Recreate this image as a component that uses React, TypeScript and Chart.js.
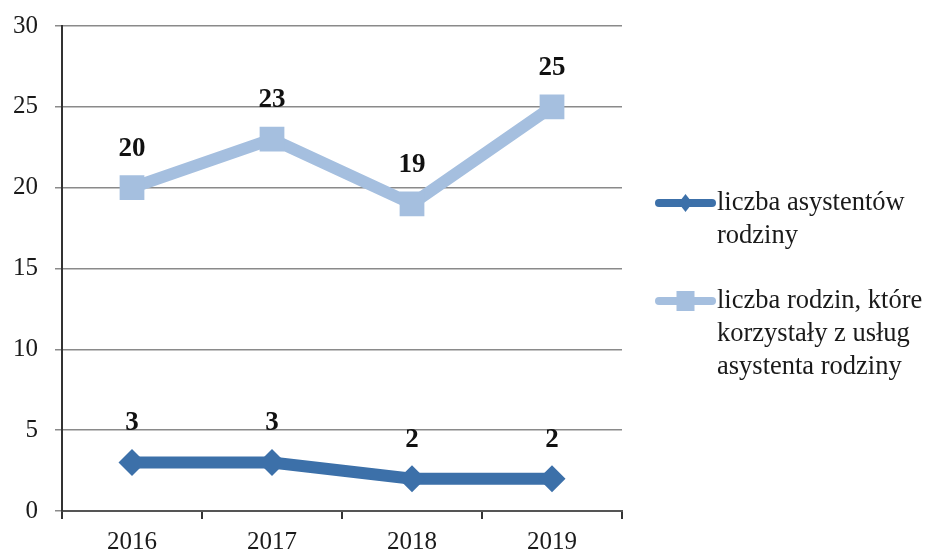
import React, { useEffect, useRef } from "react";
import { Chart, registerables } from "chart.js";

Chart.register(...registerables);

const categories = ["2016", "2017", "2018", "2019"];
const asystenci = [3, 3, 2, 2];
const rodziny = [20, 23, 19, 25];
const legendLabels = [
  ["liczba asystentów", "rodziny"],
  ["liczba rodzin, które", "korzystały z usług", "asystenta rodziny"],
];
const yTicks = [0, 5, 10, 15, 20, 25, 30];

const DARK = "#3c70a9";
const LIGHT = "#a5bfdf";
const FONT = "'Liberation Serif', 'Times New Roman', serif";

const dataLabelPlugin = {
  id: "dataLabels",
  afterDatasetsDraw(chart: any) {
    const ctx = chart.ctx;
    ctx.save();
    ctx.font = `bold 27px ${FONT}`;
    ctx.fillStyle = "#111";
    ctx.textAlign = "center";
    ctx.textBaseline = "middle";
    chart.data.datasets.forEach((ds: any, i: number) => {
      const meta = chart.getDatasetMeta(i);
      meta.data.forEach((pt: any, j: number) => {
        ctx.fillText(String(ds.data[j]), pt.x, pt.y - 39);
      });
    });
    ctx.restore();
  },
};

const legendPlugin = {
  id: "customLegend",
  afterDraw(chart: any) {
    const ctx = chart.ctx;
    ctx.save();
    const x0 = 659;
    const x1 = 712;
    const starts = [203, 301];
    const lh = 33;
    chart.data.datasets.forEach((ds: any, i: number) => {
      const y = starts[i];
      ctx.strokeStyle = ds.borderColor;
      ctx.lineWidth = 8;
      ctx.lineCap = "round";
      ctx.beginPath();
      ctx.moveTo(x0, y);
      ctx.lineTo(x1, y);
      ctx.stroke();
      ctx.fillStyle = ds.pointBackgroundColor;
      const cx = (x0 + x1) / 2;
      if (ds.pointStyle === "rectRot") {
        ctx.beginPath();
        ctx.moveTo(cx, y - 9);
        ctx.lineTo(cx + 7, y);
        ctx.lineTo(cx, y + 9);
        ctx.lineTo(cx - 7, y);
        ctx.closePath();
        ctx.fill();
      } else {
        ctx.fillRect(cx - 9, y - 10, 18, 20);
      }
      ctx.fillStyle = "#1a1a1a";
      ctx.font = `26.5px ${FONT}`;
      ctx.textAlign = "left";
      ctx.textBaseline = "middle";
      legendLabels[i].forEach((t, k) => {
        ctx.fillText(t, 717, y + k * lh);
      });
    });
    ctx.restore();
  },
};

export default function App() {
  const ref = useRef<HTMLCanvasElement>(null);
  useEffect(() => {
    if (!ref.current) return;
    const chart = new Chart(ref.current, {
      type: "line",
      data: {
        labels: categories,
        datasets: [
          {
            label: legendLabels[0].join(" "),
            data: asystenci,
            borderColor: DARK,
            backgroundColor: DARK,
            pointBackgroundColor: DARK,
            pointBorderColor: DARK,
            borderWidth: 12,
            pointStyle: "rectRot",
            pointRadius: 13.5,
            pointBorderWidth: 0,
          },
          {
            label: legendLabels[1].join(" "),
            data: rodziny,
            borderColor: LIGHT,
            backgroundColor: LIGHT,
            pointBackgroundColor: LIGHT,
            pointBorderColor: LIGHT,
            borderWidth: 12,
            pointStyle: "rect",
            pointRadius: 17.5,
            pointBorderWidth: 0,
          },
        ],
      },
      options: {
        responsive: false,
        animation: false,
        layout: { autoPadding: false, padding: { top: 26, right: 306, left: 0, bottom: 0 } },
        plugins: {
          legend: { display: false },
          tooltip: { enabled: false },
        },
        scales: {
          x: {
            offset: true,
            grid: {
              offset: true,
              drawOnChartArea: false,
              drawTicks: true,
              tickLength: 8,
              color: "#333",
              lineWidth: 2,
            },
            border: { display: true, color: "#555", width: 2 },
            ticks: {
              color: "#1a1a1a",
              font: { family: FONT, size: 25 },
              padding: 8,
              maxRotation: 0,
            },
            afterFit(scale: any) {
              scale.height = 39;
            },
          },
          y: {
            min: 0,
            max: 30,
            afterBuildTicks(scale: any) {
              scale.ticks = yTicks.map((v) => ({ value: v }));
            },
            grid: {
              color: "#8a8a8a",
              lineWidth: 1.5,
              tickLength: 7,
            },
            border: { display: true, color: "#333", width: 2 },
            ticks: {
              color: "#1a1a1a",
              font: { family: FONT, size: 25, lineHeight: 0.4 },
              padding: 17,
            },
            afterFit(scale: any) {
              scale.width = 62;
            },
          },
        },
      },
      plugins: [dataLabelPlugin, legendPlugin],
    });
    return () => chart.destroy();
  }, []);
  return (
    <div style={{ position: "fixed", left: 0, top: 0, width: 928, height: 550, background: "#fff" }}>
      <canvas ref={ref} width={928} height={550} />
    </div>
  );
}
